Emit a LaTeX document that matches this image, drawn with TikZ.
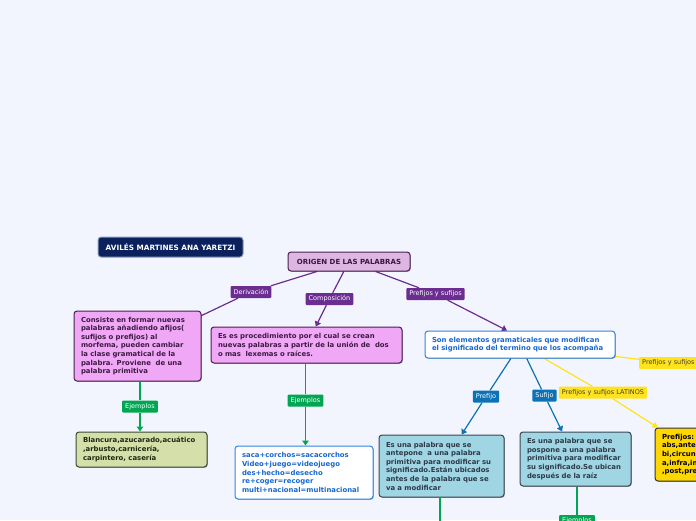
\documentclass[tikz,border=0pt]{standalone}
\usepackage{fontspec}
\setmainfont{DejaVu Sans}
\usepackage{xcolor}
\usetikzlibrary{arrows.meta,positioning,shadows}
\definecolor{PageBg}{HTML}{F3F5FE}
\definecolor{MapPurple}{HTML}{6B2D8F}
\definecolor{RootFill}{HTML}{DDB6E2}
\definecolor{RootLine}{HTML}{4A1E50}
\definecolor{PinkFill}{HTML}{F0A8F6}
\definecolor{PinkText}{HTML}{3C1A42}
\definecolor{MapGreen}{HTML}{00A651}
\definecolor{OliveFill}{HTML}{D4DFA9}
\definecolor{OliveLine}{HTML}{3A4A32}
\definecolor{OliveText}{HTML}{1E2A12}
\definecolor{MapBlue}{HTML}{0B72B5}
\definecolor{SkyLine}{HTML}{2F86DC}
\definecolor{SkyText}{HTML}{1867CF}
\definecolor{AquaFill}{HTML}{A0D5E3}
\definecolor{AquaLine}{HTML}{3B4652}
\definecolor{AquaText}{HTML}{2B3A48}
\definecolor{MapYellow}{HTML}{FFE31C}
\definecolor{GoldFill}{HTML}{FFD700}
\definecolor{NavyFill}{HTML}{0B215E}
\definecolor{NavyLine}{HTML}{8C9DBB}
\newcommand\boxfont{\fontsize{6.9}{8.6}\selectfont\bfseries}
\newcommand\tagfont{\fontsize{6.5}{7.5}\selectfont}
\pgfdeclarelayer{bg}
\pgfdeclarelayer{links}
\pgfsetlayers{bg,links,main}

\begin{document}
\begin{tikzpicture}[x=1pt, y=-1pt,
    mapbox/.style={rounded corners=3pt, line width=1pt, align=left, inner xsep=7pt, inner ysep=3pt, font=\boxfont,
      drop shadow={shadow xshift=0.8pt, shadow yshift=-0.8pt, opacity=0.3, fill=black}},
    pinkbox/.style={mapbox, draw=RootLine, fill=PinkFill, text=PinkText},
    whitebox/.style={mapbox, draw=SkyLine, fill=white, text=SkyText},
    olivebox/.style={mapbox, draw=OliveLine, fill=OliveFill, text=OliveText},
    aquabox/.style={mapbox, draw=AquaLine, fill=AquaFill, text=AquaText},
    goldbox/.style={mapbox, draw=black!80, fill=GoldFill, text=black},
    maptag/.style={rounded corners=1pt, inner xsep=3pt, inner ysep=0pt, minimum height=12pt, font=\tagfont, text=white},
    purpletag/.style={maptag, fill=MapPurple},
    greentag/.style={maptag, fill=MapGreen},
    bluetag/.style={maptag, fill=MapBlue},
    yellowtag/.style={maptag, fill=MapYellow, text=black!75},
    link/.style={line width=1.2pt},
    headed/.style={-{Triangle[length=5pt,width=6.5pt]}}
  ]
  \useasboundingbox (0,0) rectangle (696,520);
  \begin{pgfonlayer}{bg}
    \fill[PageBg] (0,0) rectangle (696,520);
  \end{pgfonlayer}

  % title and root
  \node[rounded corners=3pt, line width=1pt, draw=NavyLine, fill=NavyFill, text=white, font=\fontsize{7.3}{8}\selectfont\bfseries,
    minimum width=145pt, minimum height=20pt] (autora) at (170.5,247) {AVILÉS MARTINES ANA YARETZI};
  \node[rounded corners=3pt, line width=1pt, draw=RootLine, fill=RootFill, text=RootLine!80!black, font=\fontsize{7}{8}\selectfont\bfseries,
    minimum width=122pt, minimum height=19pt,
    drop shadow={shadow xshift=0.8pt, shadow yshift=-0.8pt, opacity=0.3, fill=black}] (origen) at (349,261.5) {ORIGEN DE LAS PALABRAS};

  % first level
  \node[purpletag] (derivtag) at (251,292) {Derivación};
  \node[purpletag] (compotag) at (329.5,299) {Composición};
  \node[purpletag] (afijotag) at (435.5,294) {Prefijos y sufijos};

  \node[pinkbox, text width=113pt, minimum height=70pt] (deriv) at (137.5,346)
    {Consiste en formar nuevas\\palabras añadiendo afijos(\\sufijos o prefijos) al\\morfema, pueden cambiar\\la clase gramatical de la\\palabra. Proviene~ de una\\palabra primitiva};
  \node[pinkbox, text width=177pt, minimum height=36pt] (compo) at (306.5,345)
    {Es es procedimiento por el cual se crean\\nuevas palabras a partir de la unión de~ dos\\o mas~ lexemas o raíces.};
  \node[whitebox, text width=176pt, minimum height=27pt] (afijo) at (520,344.5)
    {Son elementos gramaticales que modifican\\el significado del termino que los acompaña};

  % ejemplos
  \node[greentag] (ejderiv) at (140,406.5) {Ejemplos};
  \node[olivebox, text width=117pt, minimum height=35pt] (exderiv) at (141.5,449.5)
    {Blancura,azucarado,acuático\\,arbusto,carnicería,\\carpintero, casería};
  \node[greentag] (ejcompo) at (305.5,400.5) {Ejemplos};
  \node[whitebox, text width=124pt, minimum height=53pt] (excompo) at (304,472.5)
    {saca+corchos=sacacorchos\\Video+juego=videojuego\\des+hecho=desecho\\re+coger=recoger\\multi+nacional=multinacional};

  % prefijos y sufijos
  \node[bluetag] (pretag) at (486,396.5) {Prefijo};
  \node[bluetag] (suftag) at (544.5,395.5) {Sufijo};
  \node[yellowtag] (lattag) at (603,392.5) {Prefijos y sufijos LATINOS};
  \node[yellowtag, anchor=west] (gritag) at (639,363) {Prefijos y sufijos};

  \node[aquabox, text width=111pt, minimum height=62pt] (prefijo) at (441.5,466)
    {Es una palabra que se\\antepone~ a una palabra\\primitiva para modificar su\\significado.Están ubicados\\antes de la palabra que se\\va a modificar};
  \node[aquabox, text width=97pt, minimum height=54pt] (sufijo) at (575.5,459)
    {Es una palabra que se\\pospone a una palabra\\primitiva para modificar\\su significado.Se ubican\\después de la raíz};
  \node[goldbox, text width=76pt, minimum height=53pt] (latinos) at (700,454.5)
    {Prefijos:\\abs,ante\\bi,circun\\a,infra,in\\,post,pre};
  \node[greentag] (ejsufijo) at (577,521) {Ejemplos};
  \coordinate (prefijoabajo) at (440,530);

  \begin{pgfonlayer}{links}
    \draw[link, MapPurple] (origen) -- (derivtag);
    \draw[link, MapPurple] (derivtag) -- (deriv);
    \draw[link, MapPurple] (origen) -- (compotag);
    \draw[link, MapPurple, headed] (compotag) -- (compo);
    \draw[link, MapPurple] (origen) -- (afijotag);
    \draw[link, MapPurple, headed] (afijotag) -- ([xshift=-13pt]afijo.north);
    \draw[link, MapGreen] (deriv.south -| ejderiv) -- (ejderiv);
    \draw[link, MapGreen, headed] (ejderiv) -- (exderiv.north -| ejderiv);
    \draw[link, MapGreen] (compo.south -| ejcompo) -- (ejcompo);
    \draw[link, MapGreen, headed] (ejcompo) -- (excompo.north -| ejcompo);
    \draw[link, MapBlue] (afijo) -- (pretag);
    \draw[link, MapBlue, headed] (pretag) -- (prefijo);
    \draw[link, MapBlue] (afijo) -- (suftag);
    \draw[link, MapBlue, headed] (suftag) -- (sufijo);
    \draw[link, MapYellow] (afijo) -- (lattag);
    \draw[link, MapYellow, headed] (lattag) -- (latinos);
    \draw[link, MapYellow] (afijo) -- (gritag);
    \draw[link, MapGreen] (prefijo.south -| prefijoabajo) -- (prefijoabajo);
    \draw[link, MapGreen] (sufijo.south -| ejsufijo) -- (ejsufijo);
  \end{pgfonlayer}
\end{tikzpicture}
\end{document}
